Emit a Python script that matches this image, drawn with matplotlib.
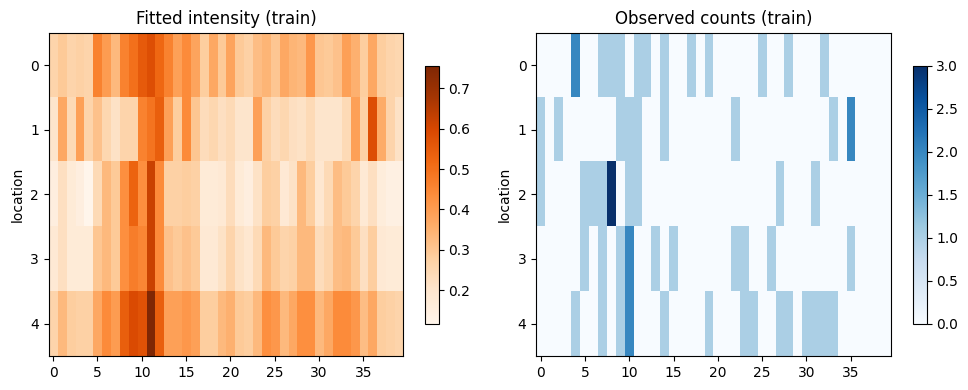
import numpy as np
import matplotlib
matplotlib.use("Agg")
import matplotlib.pyplot as plt

# fitted intensity, 5 locations x 40 time steps
fit_0 = [0.26, 0.29, 0.26, 0.27, 0.26, 0.46, 0.40, 0.33, 0.46, 0.50,
         0.55, 0.58, 0.52, 0.46, 0.39, 0.44, 0.38, 0.28, 0.37, 0.29,
         0.38, 0.29, 0.27, 0.32, 0.34, 0.30, 0.37, 0.34, 0.33, 0.41,
         0.30, 0.29, 0.31, 0.39, 0.35, 0.28, 0.37, 0.28, 0.26, 0.25]
fit_1 = [0.20, 0.37, 0.24, 0.39, 0.26, 0.31, 0.25, 0.21, 0.26, 0.26,
         0.46, 0.49, 0.54, 0.39, 0.28, 0.44, 0.30, 0.23, 0.25, 0.22,
         0.24, 0.20, 0.20, 0.39, 0.27, 0.23, 0.25, 0.22, 0.21, 0.24,
         0.20, 0.20, 0.20, 0.24, 0.39, 0.27, 0.58, 0.36, 0.26, 0.21]
fit_2 = [0.15, 0.22, 0.17, 0.15, 0.117, 0.24, 0.33, 0.29, 0.43, 0.53,
         0.43, 0.62, 0.44, 0.27, 0.27, 0.28, 0.27, 0.17, 0.17, 0.18,
         0.23, 0.17, 0.15, 0.21, 0.28, 0.27, 0.18, 0.21, 0.33, 0.28,
         0.19, 0.24, 0.32, 0.29, 0.26, 0.18, 0.22, 0.16, 0.14, 0.14]
fit_3 = [0.18, 0.22, 0.17, 0.17, 0.17, 0.30, 0.33, 0.29, 0.43, 0.47,
         0.45, 0.62, 0.44, 0.31, 0.29, 0.31, 0.29, 0.18, 0.18, 0.21,
         0.26, 0.21, 0.19, 0.24, 0.33, 0.29, 0.26, 0.27, 0.33, 0.33,
         0.23, 0.26, 0.32, 0.33, 0.29, 0.22, 0.28, 0.18, 0.17, 0.17]
fit_4 = [0.26, 0.33, 0.28, 0.27, 0.27, 0.37, 0.44, 0.40, 0.54, 0.59,
         0.57, 0.756, 0.54, 0.39, 0.39, 0.41, 0.39, 0.28, 0.28, 0.33,
         0.35, 0.29, 0.28, 0.33, 0.43, 0.41, 0.33, 0.37, 0.43, 0.43,
         0.33, 0.37, 0.44, 0.44, 0.41, 0.32, 0.37, 0.28, 0.27, 0.26]

# observed counts
obs_0 = [0, 0, 0, 0, 2, 0, 0, 1, 1, 1, 0, 1, 1, 0, 1, 0, 0, 1, 0, 1,
         0, 0, 0, 0, 0, 1, 0, 0, 1, 0, 0, 0, 1, 0, 0, 0, 0, 0, 0, 0]
obs_1 = [1, 0, 1, 0, 0, 0, 0, 0, 0, 1, 1, 1, 0, 0, 1, 0, 0, 0, 0, 0,
         0, 0, 1, 0, 0, 0, 0, 0, 0, 0, 0, 0, 0, 1, 0, 2, 0, 0, 0, 0]
obs_2 = [1, 0, 0, 0, 0, 1, 1, 1, 3, 0, 1, 1, 0, 0, 0, 0, 0, 0, 0, 0,
         0, 0, 0, 0, 0, 0, 0, 1, 0, 0, 0, 1, 0, 0, 0, 0, 0, 0, 0, 0]
obs_3 = [0, 0, 0, 0, 0, 1, 0, 1, 0, 1, 2, 0, 0, 1, 0, 1, 0, 0, 0, 0,
         0, 0, 1, 1, 0, 0, 1, 0, 0, 0, 0, 0, 0, 0, 0, 1, 0, 0, 0, 0]
obs_4 = [0, 0, 0, 0, 1, 0, 0, 1, 0, 1, 2, 0, 0, 0, 1, 0, 0, 0, 0, 1,
         0, 0, 0, 1, 1, 0, 0, 1, 1, 0, 1, 1, 1, 1, 0, 0, 0, 0, 0, 0]

fitted = np.array([fit_0, fit_1, fit_2, fit_3, fit_4])
observed = np.array([obs_0, obs_1, obs_2, obs_3, obs_4])

fig = plt.figure(figsize=(9.68, 3.9), dpi=100)

ax1 = fig.add_axes([0.0503, 0.0874, 0.3664, 0.8287])
cax1 = fig.add_axes([0.4394, 0.1700, 0.0138, 0.6615])
ax2 = fig.add_axes([0.5540, 0.0874, 0.3661, 0.8287])
cax2 = fig.add_axes([0.9435, 0.1700, 0.0138, 0.6615])

im1 = ax1.imshow(fitted, aspect="auto", cmap="Oranges", interpolation="nearest")
ax1.set_title("Fitted intensity (train)")
ax1.set_ylabel("location")
fig.colorbar(im1, cax=cax1)

im2 = ax2.imshow(observed, aspect="auto", cmap="Blues", interpolation="nearest")
ax2.set_title("Observed counts (train)")
ax2.set_ylabel("location")
fig.colorbar(im2, cax=cax2)

for ax in (ax1, ax2):
    ax.set_xticks(range(0, 40, 5))
    ax.set_yticks(range(5))

plt.savefig("out.png")
